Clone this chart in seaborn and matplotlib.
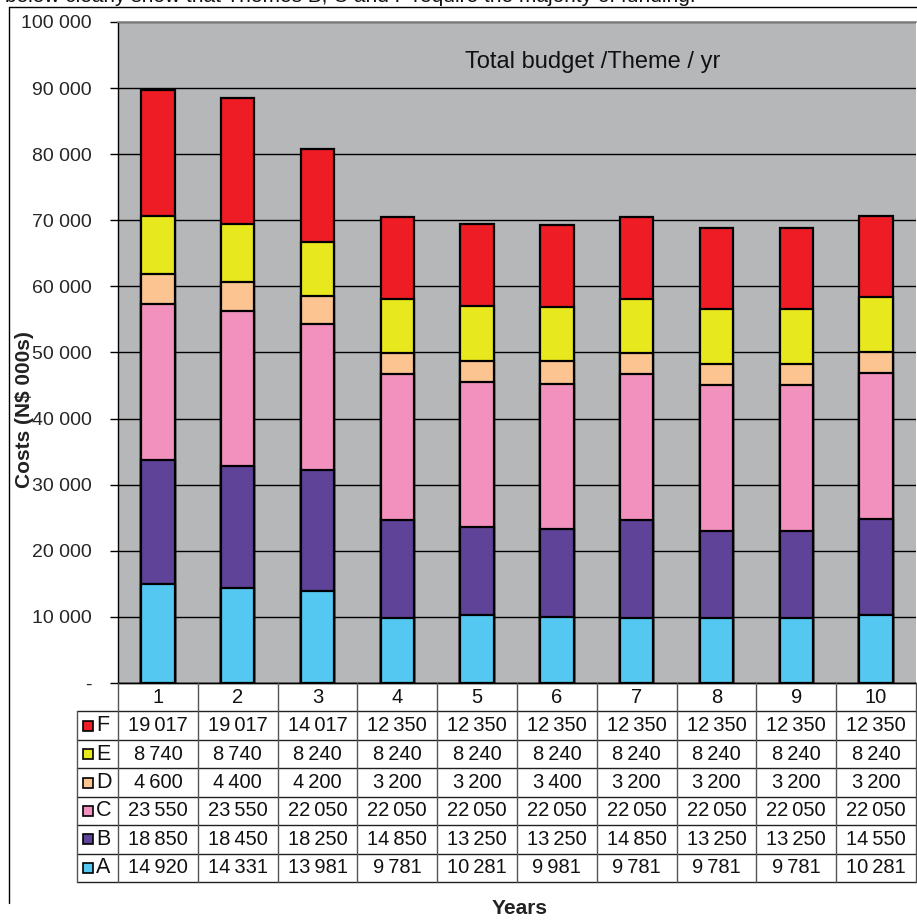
import matplotlib
matplotlib.use("Agg")
import pandas as pd
import seaborn as sns
import matplotlib.pyplot as plt
from matplotlib.lines import Line2D
from matplotlib.patches import Rectangle
from matplotlib.ticker import FuncFormatter, MultipleLocator

# Budget per theme per year (N$ 000s)
years = ["1", "2", "3", "4", "5", "6", "7", "8", "9", "10"]
themes = ["A", "B", "C", "D", "E", "F"]
theme_a = [14920, 14331, 13981, 9781, 10281, 9981, 9781, 9781, 9781, 10281]
theme_b = [18850, 18450, 18250, 14850, 13250, 13250, 14850, 13250, 13250, 14550]
theme_c = [23550, 23550, 22050, 22050, 22050, 22050, 22050, 22050, 22050, 22050]
theme_d = [4600, 4400, 4200, 3200, 3200, 3400, 3200, 3200, 3200, 3200]
theme_e = [8740, 8740, 8240, 8240, 8240, 8240, 8240, 8240, 8240, 8240]
theme_f = [19017, 19017, 14017, 12350, 12350, 12350, 12350, 12350, 12350, 12350]
theme_colors = {"A": "#55C8F2", "B": "#5F4398", "C": "#F291BD",
                "D": "#FBC490", "E": "#E8E81E", "F": "#EE1C25"}

values = {"A": theme_a, "B": theme_b, "C": theme_c,
          "D": theme_d, "E": theme_e, "F": theme_f}

rows = []
for t in themes:
    for y, v in zip(years, values[t]):
        rows.append({"Year": y, "Theme": t, "Cost": v})
df = pd.DataFrame(rows)
df["Cum"] = df.groupby("Year")["Cost"].cumsum()

sns.set_theme(style="white")
plt.rcParams["font.family"] = ["Liberation Sans", "DejaVu Sans"]

W, H = 917, 922
fig = plt.figure(figsize=(W / 100, H / 100), dpi=100)

# pixel layout
left, right, top, bottom = 118, 916, 22, 683
ax = fig.add_axes([left / W, 1 - bottom / H, (right - left) / W, (bottom - top) / H])
ax.set_facecolor("#B5B7B9")

# stacked bars: draw cumulative totals, top theme first
for t in reversed(themes):
    sub = df[df["Theme"] == t]
    sns.barplot(data=sub, x="Year", y="Cum", order=years, color=theme_colors[t],
                width=0.42, edgecolor="black", linewidth=1.6, saturation=1,
                ax=ax, zorder=3)

ax.set_xlim(-0.5, 9.5)
ax.set_ylim(0, 100000)
ax.yaxis.set_major_locator(MultipleLocator(10000))
ax.yaxis.set_major_formatter(FuncFormatter(
    lambda v, p: "-" if v == 0 else f"{int(v):,}".replace(",", " ")))
ax.yaxis.grid(True, color="black", linewidth=1)
ax.set_axisbelow(True)
ax.set_xticks([])
ax.set_xlabel("")
ax.set_ylabel("")
ax.tick_params(axis="y", direction="out", length=6, width=1, color="black",
               labelsize=14, pad=13, left=True)
for s in ["left", "bottom"]:
    ax.spines[s].set_color("black")
    ax.spines[s].set_linewidth(1)
ax.spines["top"].set_color("#8a8a8a")
ax.spines["right"].set_visible(False)

ax.text((465 - left) / (right - left), (bottom - 62) / (bottom - top),
        "Total budget /Theme / yr", transform=ax.transAxes, fontsize=17,
        ha="left", va="center", color="#111")

# data table below the plot
col_w = (right - left) / 10
xmin = -0.5 - (left - 77) / col_w
tax = fig.add_axes([77 / W, 1 - 882 / H, (right - 77) / W, (882 - bottom) / H])
tax.set_xlim(xmin, 9.5)
tax.set_ylim(7, 0)
tax.axis("off")

tax.plot([-0.5, 9.5], [0, 0], color="black", linewidth=1, clip_on=False)
for r in range(1, 8):
    tax.plot([xmin, 9.5], [r, r], color="#222", linewidth=1, clip_on=False)
for k in range(11):
    tax.plot([-0.5 + k, -0.5 + k], [0, 7], color="#555", linewidth=1, clip_on=False)
tax.plot([xmin, xmin], [1, 7], color="#555", linewidth=1, clip_on=False)

for i, y in enumerate(years):
    tax.text(i, 0.5, y, ha="center", va="center", fontsize=14.5, color="#111")

sq_w = 10 / col_w
sq_h = 10 / ((882 - bottom) / 7)
for r, t in enumerate(reversed(themes), start=1):
    tax.add_patch(Rectangle((xmin + 6 / col_w, r + 0.5 - sq_h / 2), sq_w, sq_h,
                            facecolor=theme_colors[t], edgecolor="black",
                            linewidth=1.2, clip_on=False))
    tax.text(xmin + 19 / col_w, r + 0.5, t, ha="left", va="center",
             fontsize=15.5, color="#111")
    for i, v in enumerate(values[t]):
        tax.text(i, r + 0.5, f"{v:,}".replace(",", "\u2009"), ha="center",
                 va="center", fontsize=14.5, color="#111")

# axis titles
fig.text(25 / W, 1 - 410 / H, "Costs (N$ 000s)", rotation=90, fontsize=15,
         fontweight="bold", ha="center", va="center", color="#222")
fig.text(520 / W, 1 - 908 / H, "Years", fontsize=15, fontweight="bold",
         ha="center", va="center", color="#222")

# document frame and the clipped text line above it
fig.add_artist(Line2D([9 / W, 9 / W], [1 - 7 / H, 1 - 903 / H],
                      transform=fig.transFigure, color="black", linewidth=1))
fig.add_artist(Line2D([9 / W, 1], [1 - 7 / H, 1 - 7 / H],
                      transform=fig.transFigure, color="black", linewidth=1))
fig.text(5 / W, 1 - 1.5 / H,
         "below clearly show that Themes B, C and F require the majority of funding.",
         fontsize=15, va="baseline", ha="left", color="#111")

fig.savefig("out.png", dpi=100)
